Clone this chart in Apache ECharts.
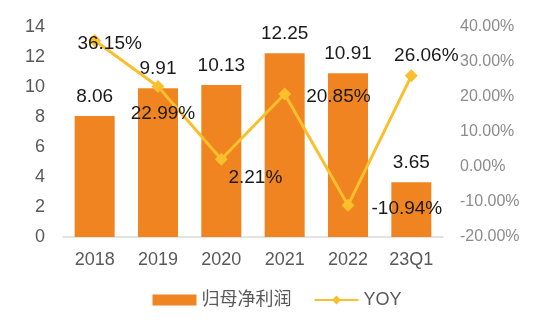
<!DOCTYPE html>
<html>
<head>
<meta charset="utf-8">
<script src="https://cdn.jsdelivr.net/npm/echarts@6/dist/echarts.min.js"></script>
<style>
  html, body { margin: 0; padding: 0; background: #fff; }
  #chart { width: 554px; height: 322px; }
</style>
</head>
<body>
<div id="chart"></div>
<script>
// Net profit attributable to parent (bars) and its YoY growth (line)
const categories = ['2018', '2019', '2020', '2021', '2022', '23Q1'];
const netProfit = [8.06, 9.91, 10.13, 12.25, 10.91, 3.65];
const yoy = [36.15, 22.99, 2.21, 20.85, -10.94, 26.06];
const leftTicks = [0, 2, 4, 6, 8, 10, 12, 14];
const rightTicks = [-20, -10, 0, 10, 20, 30, 40];

const FONT = '"Liberation Sans", Arial, "Noto Sans CJK SC", sans-serif';

// per-point placement of the YoY labels
const yoyLabelPlace = [
  { position: 'inside', offset: [15, 3] },
  { position: 'bottom', offset: [5, 6] },
  { position: 'bottom', offset: [34, -2] },
  { position: 'right', offset: [10, 3] },
  { position: 'right', offset: [12, 3] },
  { position: 'top', offset: [15, 1] }
];

const chart = echarts.init(document.getElementById('chart'), null, { renderer: 'canvas' });
chart.setOption({
  animation: false,
  textStyle: { fontFamily: FONT },
  grid: { left: 63, right: 111, top: 27, bottom: 85, containLabel: false },
  legend: {
    bottom: 8,
    left: 'center',
    itemWidth: 44,
    itemHeight: 11,
    itemGap: 22,
    textStyle: { fontSize: 18, color: '#595959', fontFamily: FONT },
    data: [
      { name: '归母净利润', icon: 'rect' },
      { name: 'YOY' }
    ]
  },
  xAxis: {
    type: 'category',
    data: categories,
    axisLine: { lineStyle: { color: '#d9d9d9', width: 1.5 } },
    axisTick: { show: false },
    axisLabel: { fontSize: 18, color: '#595959', margin: 14 }
  },
  yAxis: [
    {
      type: 'value',
      min: leftTicks[0],
      max: leftTicks[leftTicks.length - 1],
      interval: 2,
      splitLine: { show: false },
      axisLine: { show: false },
      axisTick: { show: false },
      axisLabel: { fontSize: 18, color: '#595959', margin: 18 }
    },
    {
      type: 'value',
      min: rightTicks[0],
      max: rightTicks[rightTicks.length - 1],
      interval: 10,
      splitLine: { show: false },
      axisLine: { show: false },
      axisTick: { show: false },
      axisLabel: {
        fontSize: 16,
        color: '#8c8c8c',
        margin: 17,
        formatter: v => v.toFixed(2) + '%'
      }
    }
  ],
  series: [
    {
      name: '归母净利润',
      type: 'bar',
      data: netProfit,
      barWidth: 40,
      itemStyle: { color: '#F08421' },
      label: {
        show: true,
        position: 'top',
        distance: 10,
        fontSize: 19,
        color: '#1a1a1a',
        formatter: p => p.value.toFixed(2)
      },
      z: 2
    },
    {
      name: 'YOY',
      type: 'line',
      yAxisIndex: 1,
      data: yoy.map((v, i) => ({
        value: v,
        label: yoyLabelPlace[i]
      })),
      symbol: 'diamond',
      symbolSize: 13,
      lineStyle: { color: '#F9BF2D', width: 3 },
      itemStyle: { color: '#F9BF2D' },
      label: {
        show: true,
        fontSize: 19,
        color: '#1a1a1a',
        formatter: p => p.value.toFixed(2) + '%'
      },
      z: 3
    }
  ]
});
</script>
</body>
</html>
